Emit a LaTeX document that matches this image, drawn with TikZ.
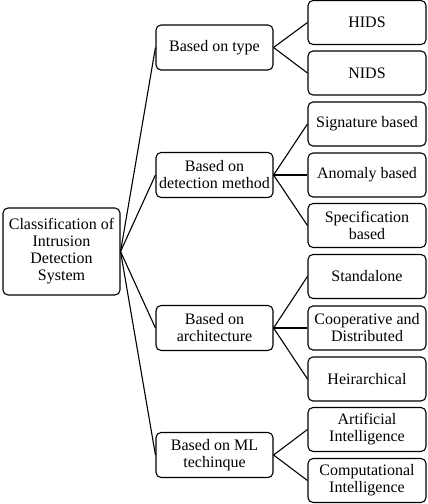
\documentclass[tikz,border=0pt]{standalone}
\usepackage{fontspec}
\setmainfont{Liberation Serif}
\begin{document}
\begin{tikzpicture}[x=1pt,y=-1pt,
  box/.style={draw, line width=1.1pt, rounded corners=5pt, inner sep=0pt,
    align=center, font=\fontsize{16}{17}\selectfont},
  lvlone/.style={box, minimum width=117pt, minimum height=45pt},
  lvltwo/.style={box, minimum width=118pt, minimum height=44pt},
  link/.style={line width=1.1pt}]
\useasboundingbox (0,0) rectangle (428,504);
\node[box, minimum width=117pt, minimum height=87pt] (root) at (61.5,251.5) {Classification of\\Intrusion\\Detection\\System};
\node[lvlone] (type) at (214.5,47.5) {Based on type};
\node[lvlone] (det) at (214.5,175) {Based on\\detection method};
\node[lvlone] (arch) at (214.5,328) {Based on\\architecture};
\node[lvlone] (ml) at (214.5,455) {Based on ML\\techinque};
\node[lvltwo] (hids) at (367,22.5) {HIDS};
\node[lvltwo] (nids) at (367,73) {NIDS};
\node[lvltwo] (sig) at (367,124) {Signature based};
\node[lvltwo] (ano) at (367,175) {Anomaly based};
\node[lvltwo] (spec) at (367,225.5) {Specification\\based};
\node[lvltwo] (stand) at (367,276.5) {Standalone};
\node[lvltwo] (coop) at (367,328) {Cooperative and\\Distributed};
\node[lvltwo] (heir) at (367,379) {Heirarchical};
\node[lvltwo] (ai) at (367,429.5) {Artificial\\Intelligence};
\node[lvltwo] (ci) at (367,480.5) {Computational\\Intelligence};
\foreach \t in {type,det,arch,ml} \draw[link] (root.east) -- (\t.west);
\foreach \t in {hids,nids} \draw[link] (type.east) -- (\t.west);
\foreach \t in {sig,ano,spec} \draw[link] (det.east) -- (\t.west);
\foreach \t in {stand,coop,heir} \draw[link] (arch.east) -- (\t.west);
\foreach \t in {ai,ci} \draw[link] (ml.east) -- (\t.west);
\end{tikzpicture}
\end{document}
